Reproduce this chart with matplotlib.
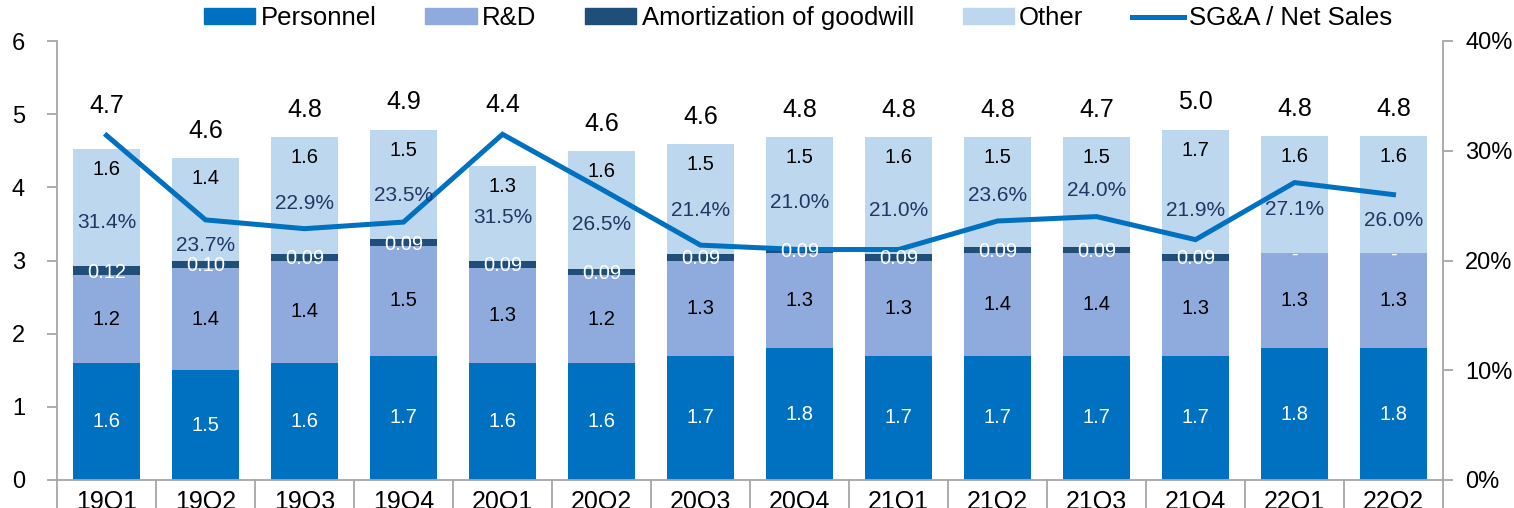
import matplotlib
matplotlib.use("Agg")
import matplotlib.pyplot as plt
import matplotlib.transforms as mtransforms
from matplotlib.lines import Line2D
from matplotlib.patches import Patch
import numpy as np

plt.rcParams['font.family'] = ['Liberation Sans', 'DejaVu Sans']

quarters = ["19Q1", "19Q2", "19Q3", "19Q4", "20Q1", "20Q2", "20Q3", "20Q4",
            "21Q1", "21Q2", "21Q3", "21Q4", "22Q1", "22Q2"]
personnel = [1.6, 1.5, 1.6, 1.7, 1.6, 1.6, 1.7, 1.8, 1.7, 1.7, 1.7, 1.7, 1.8, 1.8]
rnd = [1.2, 1.4, 1.4, 1.5, 1.3, 1.2, 1.3, 1.3, 1.3, 1.4, 1.4, 1.3, 1.3, 1.3]
goodwill = [0.12, 0.10, 0.09, 0.09, 0.09, 0.09, 0.09, 0.09, 0.09, 0.09, 0.09, 0.09, 0.0, 0.0]
other = [1.6, 1.4, 1.6, 1.5, 1.3, 1.6, 1.5, 1.5, 1.6, 1.5, 1.5, 1.7, 1.6, 1.6]
totals = [4.7, 4.6, 4.8, 4.9, 4.4, 4.6, 4.6, 4.8, 4.8, 4.8, 4.7, 5.0, 4.8, 4.8]
sga_ratio = [31.4, 23.7, 22.9, 23.5, 31.5, 26.5, 21.4, 21.0, 21.0, 23.6, 24.0, 21.9, 27.1, 26.0]

C_PERS = "#0070C0"
C_RND = "#8FAADC"
C_GW = "#1F4E79"
C_OTH = "#BDD7EE"
C_LINE = "#0070C0"
C_PCT = "#1F3864"
GRAY = "#A6A6A6"

W, H = 1514, 508
fig = plt.figure(figsize=(W / 100, H / 100), dpi=100)
ax = fig.add_axes([57 / W, 28 / H, (1443 - 57) / W, (480 - 41) / H])
ax2 = ax.twinx()

x = np.arange(len(quarters))
pers = np.array(personnel)
rd = np.array(rnd)
gw = np.array(goodwill)
oth = np.array(other)
bw = 0.67

ax.bar(x, pers, bw, color=C_PERS, zorder=2)
ax.bar(x, rd, bw, bottom=pers, color=C_RND, zorder=2)
ax.bar(x, gw, bw, bottom=pers + rd, color=C_GW, zorder=2)
ax.bar(x, oth, bw, bottom=pers + rd + gw, color=C_OTH, zorder=2)

ax.set_xlim(-0.5, len(quarters) - 0.5)
ax.set_ylim(0, 6)
ax.set_yticks(range(0, 7))
ax2.set_ylim(0, 40)
ax2.set_yticks(range(0, 41, 10))
ax2.set_yticklabels([f"{v}%" for v in range(0, 41, 10)])

ax2.plot(x, sga_ratio, color=C_LINE, lw=3.6, solid_joinstyle='miter', zorder=5)

for a in (ax, ax2):
    for s in a.spines.values():
        s.set_visible(False)
ax.spines['left'].set_visible(True)
ax.spines['bottom'].set_visible(True)
ax2.spines['right'].set_visible(True)
for s in (ax.spines['left'], ax.spines['bottom'], ax2.spines['right']):
    s.set_color(GRAY)
    s.set_linewidth(1.3)

ax.tick_params(axis='y', direction='out', length=7, width=1.3, color=GRAY, pad=16, labelsize=17)
ax2.tick_params(axis='y', direction='out', length=7, width=1.3, color=GRAY, pad=9, labelsize=17)
ax.set_xticks(x)
ax.set_xticklabels(quarters)
ax.tick_params(axis='x', length=0, pad=7, labelsize=18)

# category separators below the axis
trans = mtransforms.blended_transform_factory(ax.transData, ax.transAxes)
for b in np.arange(-0.5, len(quarters), 1.0):
    ax.plot([b, b], [0, -0.08], transform=trans, clip_on=False, color=GRAY, lw=1.3)

# labels (drawn on the top axes, in left-axis coordinates)
T = ax.transData
for i in range(len(quarters)):
    b1 = pers[i]
    b2 = b1 + rd[i]
    b3 = b2 + gw[i]
    top = b3 + oth[i]
    ax2.text(x[i], b1 / 2, f"{pers[i]:.1f}", transform=T, ha='center', va='center',
             color='white', fontsize=14.5, zorder=6)
    ax2.text(x[i], b1 + rd[i] / 2, f"{rd[i]:.1f}", transform=T, ha='center', va='center',
             color='black', fontsize=14.5, zorder=6)
    gtxt = f"{gw[i]:.2f}" if gw[i] > 0 else "-"
    ax2.text(x[i], b2 + gw[i] / 2 - 0.02, gtxt, transform=T, ha='center', va='center',
             color='white', fontsize=14.5, zorder=6)
    ax2.text(x[i], top - 0.28, f"{oth[i]:.1f}", transform=T, ha='center', va='center',
             color='black', fontsize=14.5, zorder=6)
    line_y = sga_ratio[i] / 40 * 6
    if line_y - 0.35 >= b3 + 0.2:
        py = min(line_y - 0.35, b3 + 0.6)
    else:
        py = max(line_y + 0.35, b3 + 0.6)
    ax2.text(x[i], py, f"{sga_ratio[i]:.1f}%", transform=T, ha='center', va='center',
             color=C_PCT, fontsize=15, zorder=6)
    ty = max(top + 0.37, line_y + 0.4)
    ax2.text(x[i], ty, f"{totals[i]:.1f}", transform=T, ha='center', va='center',
             color='black', fontsize=18, zorder=6)

handles = [Patch(color=C_PERS, label="Personnel"),
           Patch(color=C_RND, label="R&D"),
           Patch(color=C_GW, label="Amortization of goodwill"),
           Patch(color=C_OTH, label="Other"),
           Line2D([], [], color=C_LINE, lw=3.6, label="SG&A / Net Sales")]
fig.legend(handles=handles, loc='center', bbox_to_anchor=(798 / W, 1 - 18 / H), ncol=5,
           frameon=False, fontsize=18.5, handlelength=2.0, handleheight=0.55,
           handletextpad=0.2, columnspacing=1.9, borderpad=0, borderaxespad=0)

fig.savefig("out.png", dpi=100)
